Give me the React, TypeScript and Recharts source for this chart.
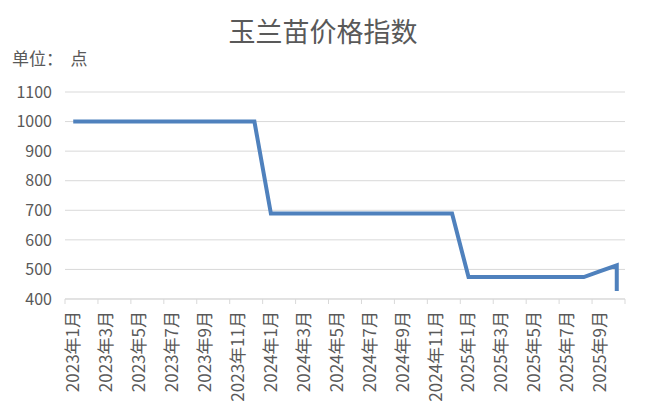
import React from "react";
import { LineChart, Line, XAxis, YAxis, CartesianGrid } from "recharts";

const monthLabels: string[] = [
  "2023年1月", "2023年2月", "2023年3月", "2023年4月", "2023年5月", "2023年6月",
  "2023年7月", "2023年8月", "2023年9月", "2023年10月", "2023年11月", "2023年12月",
  "2024年1月", "2024年2月", "2024年3月", "2024年4月", "2024年5月", "2024年6月",
  "2024年7月", "2024年8月", "2024年9月", "2024年10月", "2024年11月", "2024年12月",
  "2025年1月", "2025年2月", "2025年3月", "2025年4月", "2025年5月", "2025年6月",
  "2025年7月", "2025年8月", "2025年9月", "2025年10月",
];

const priceValues: number[] = [
  1000, 1000, 1000, 1000, 1000, 1000, 1000, 1000, 1000, 1000, 1000, 1000,
  689, 689, 689, 689, 689, 689, 689, 689, 689, 689, 689, 689,
  474, 474, 474, 474, 474, 474, 474, 474, 494, 514,
];

// the series ends with a second reading in the last month
const tailMonth = "2025年10月";
const tailValue = 427;

const yTicks: number[] = [400, 500, 600, 700, 800, 900, 1000, 1100];

const data = [
  ...priceValues.map((v, i) => ({ x: i, value: v })),
  { x: monthLabels.indexOf(tailMonth), value: tailValue },
];

// tick marks sit between months, one every two months
const boundaryTicks: number[] = [];
for (let i = 0; i < monthLabels.length; i += 2) boundaryTicks.push(i - 0.5);
boundaryTicks.push(monthLabels.length - 0.5);

const FONT = '"Noto Sans CJK SC", "Noto Sans", sans-serif';
const TEXT = "#595959";
const GRID = "#d9d9d9";

const W = 648;
const H = 420;
const M = { top: 92, right: 23, bottom: 0, left: 0 };
const Y_W = 65;
const X_H = 121;
const step = (W - M.left - M.right - Y_W) / monthLabels.length;

const MonthTick = (props: any) => {
  const { x, y, payload } = props;
  const idx = Math.round(payload.value + 0.5);
  if (idx >= monthLabels.length) return <g />;
  const cx = x + step / 2;
  const ty = y + 5;
  return (
    <text
      x={cx}
      y={ty}
      dy="0.35em"
      textAnchor="end"
      fill={TEXT}
      fontSize={17}
      fontFamily={FONT}
      transform={`rotate(-90, ${cx}, ${ty})`}
    >
      {monthLabels[idx]}
    </text>
  );
};

const App: React.FC = () => {
  return (
    <div
      style={{
        position: "absolute",
        left: 0,
        top: 0,
        width: W,
        height: H,
        background: "#fff",
        fontFamily: FONT,
      }}
    >
      <div
        style={{
          position: "absolute",
          left: 0,
          width: W - 2,
          top: 12,
          textAlign: "center",
          fontSize: 27,
          lineHeight: "37px",
          color: TEXT,
        }}
      >
        玉兰苗价格指数
      </div>
      <div
        style={{
          position: "absolute",
          left: 12,
          top: 46,
          fontSize: 17,
          lineHeight: "24px",
          color: TEXT,
          whiteSpace: "pre",
        }}
      >
        单位：  点
      </div>
      <LineChart width={W} height={H} data={data} margin={M}>
        <CartesianGrid vertical={false} stroke={GRID} strokeWidth={1} />
        <XAxis
          type="number"
          dataKey="x"
          domain={[-0.5, monthLabels.length - 0.5]}
          ticks={boundaryTicks}
          interval={0}
          height={X_H}
          axisLine={{ stroke: GRID }}
          tickLine={{ stroke: GRID }}
          tickSize={5}
          tickMargin={2}
          tick={<MonthTick />}
        />
        <YAxis
          domain={[400, 1100]}
          ticks={yTicks}
          interval={0}
          width={Y_W}
          axisLine={false}
          tickLine={false}
          tickSize={6}
          tickMargin={7}
          tick={{ fill: TEXT, fontSize: 16, fontFamily: FONT }}
        />
        <Line
          type="linear"
          dataKey="value"
          stroke="#4f81bd"
          strokeWidth={4}
          dot={false}
          isAnimationActive={false}
        />
      </LineChart>
    </div>
  );
};

export default App;
